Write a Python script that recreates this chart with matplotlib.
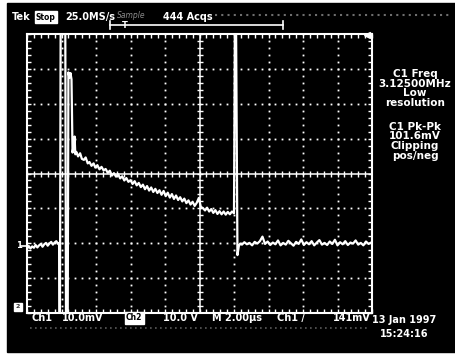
import numpy as np
import matplotlib
matplotlib.use("Agg")
import matplotlib.pyplot as plt
from matplotlib.patches import Rectangle
from matplotlib.lines import Line2D

# ---- trace data (time in us, volts in mV) ----
t_pre = [0.00, 0.10, 0.20, 0.30, 0.40, 0.50, 0.60, 0.70, 0.80, 0.90,
         1.00, 1.10, 1.20, 1.30, 1.40, 1.50, 1.60, 1.70, 1.80, 1.86]
v_pre = [-21.6, -20.8, -21.5, -20.9, -21.3, -20.5, -21.2, -20.6, -20.2, -21.0,
         -20.3, -19.9, -20.7, -20.1, -19.6, -20.4, -19.8, -19.4, -20.2, -19.9]

# the burst: clipped both ways, then the spike
t_pulse = [1.88, 1.91, 1.95, 2.22, 2.26, 2.36, 2.40, 2.46, 2.52, 2.58, 2.64, 2.70, 2.76, 2.80, 2.86]
v_pulse = [-42, -42, 42, 42, -42, -42, 29.0, 27.5, 28.8, 27.0, 6.0, 8.0, 10.6, 5.5, 6.2]

t_decay = [2.96, 3.08, 3.18, 3.30, 3.40, 3.52, 3.62, 3.74, 3.86, 3.96,
           4.08, 4.20, 4.32, 4.44, 4.56, 4.68, 4.80, 4.92, 5.04, 5.16,
           5.28, 5.40, 5.52, 5.64, 5.76, 5.88, 6.00, 6.12, 6.24, 6.36,
           6.48, 6.60, 6.72, 6.84, 6.96, 7.08, 7.20, 7.32, 7.44, 7.56,
           7.68, 7.80, 7.92, 8.04, 8.16, 8.28, 8.40, 8.52, 8.64, 8.76,
           8.88, 9.00, 9.12, 9.24, 9.36, 9.48, 9.60, 9.72, 9.84, 9.96,
           10.08, 10.20, 10.32, 10.44, 10.56, 10.68, 10.80, 10.92, 11.04, 11.16,
           11.28, 11.40, 11.52, 11.64, 11.76, 11.88, 12.00]
v_decay = [4.9, 5.8, 4.2, 3.9, 4.6, 2.9, 3.3, 2.2, 2.9, 1.7,
           2.4, 1.2, 1.9, 0.9, 1.3, 0.2, 0.8, -0.6, 0.1, -0.9,
           -0.2, -1.4, -0.8, -2.0, -1.3, -2.4, -1.9, -3.0, -2.2, -3.4,
           -2.7, -3.9, -3.2, -4.5, -3.6, -4.9, -4.0, -5.3, -4.4, -5.6,
           -4.8, -6.1, -5.0, -6.5, -5.5, -6.9, -5.9, -7.3, -6.3, -7.6,
           -6.8, -8.0, -7.2, -8.5, -7.7, -8.9, -8.1, -9.3, -8.4, -7.0,
           -9.6, -9.9, -10.6, -9.8, -10.9, -10.2, -11.3, -10.5, -11.6, -10.8,
           -11.7, -10.9, -11.8, -11.0, -11.7, -10.9, -11.4]

# end of burst: clipped high, then back to baseline
t_end = [12.05, 12.12, 12.20, 12.28, 12.36]
v_end = [42, 42, -23.4, -20.8, -20.1]

t_post = [12.46, 12.60, 12.75, 12.90, 13.05, 13.20, 13.35, 13.50, 13.65, 13.80,
          13.95, 14.10, 14.25, 14.40, 14.55, 14.70, 14.85, 15.00, 15.15, 15.30,
          15.45, 15.60, 15.75, 15.90, 16.05, 16.20, 16.35, 16.50, 16.65, 16.80,
          16.95, 17.10, 17.25, 17.40, 17.55, 17.70, 17.85, 18.00, 18.15, 18.30,
          18.45, 18.60, 18.75, 18.90, 19.05, 19.20, 19.35, 19.50, 19.65, 19.80,
          19.95]
v_post = [-20.4, -19.7, -20.3, -19.9, -20.6, -19.6, -20.1, -19.4, -18.1, -20.2,
          -19.5, -20.5, -19.8, -20.3, -19.2, -20.6, -19.9, -20.4, -19.3, -20.0,
          -20.7, -19.6, -20.2, -18.9, -20.5, -19.7, -20.3, -19.4, -20.6, -19.8,
          -19.1, -20.4, -19.9, -20.5, -19.5, -20.2, -19.0, -20.6, -19.7, -20.3,
          -19.4, -20.5, -19.8, -20.1, -19.2, -20.4, -19.9, -20.6, -19.5, -20.2,
          -19.8]

header = ["Tek", "Stop", "25.0MS/s", "Sample", "444 Acqs"]
meas1 = ["C1 Freq", "3.12500MHz", "Low", "resolution"]
meas2 = ["C1 Pk-Pk", "101.6mV", "Clipping", "pos/neg"]
bottom = ["Ch1", "10.0mV", "Ch2", "10.0 V", "M 2.00\u00b5s", "Ch1 /", "141mV"]
date_str = "13 Jan 1997"
time_str = "15:24:16"

W, H = 455, 355
fig = plt.figure(figsize=(W / 100, H / 100), dpi=100, facecolor="white")

def fx(px):
  return px / W

def fy(py):
  return 1 - py / H

# black scope screen (drawn under the axes)
fig.patches.append(Rectangle((fx(7), fy(352)), 1, (352 - 3) / H,
                             transform=fig.transFigure, color="black", zorder=-5))

ax = fig.add_axes([fx(27), fy(313), (372 - 27) / W, (313 - 34) / H])
ax.set_zorder(2)
ax.set_facecolor("black")
ax.set_xlim(0, 20)
ax.set_ylim(-40, 40)

# graticule: dotted division lines
for xv in range(2, 20, 2):
  if xv == 10:
    continue
  yy = np.arange(-40, 40.1, 2)
  ax.plot(np.full_like(yy, xv), yy, ls="none", marker="s", ms=1.3, color="white", mew=0)
for yv in (-30, -20, -10, 10, 20, 30):
  xx = np.arange(0, 20.01, 0.4)
  ax.plot(xx, np.full_like(xx, yv), ls="none", marker="s", ms=1.3, color="white", mew=0)

# centre cross with ticks
ax.axhline(0, color="white", lw=1.1)
ax.axvline(10, color="white", lw=1.1)
xx = np.arange(0, 20.01, 0.4)
ax.plot(xx, np.zeros_like(xx), ls="none", marker="|", ms=4, color="white", mew=1)
yy = np.arange(-40, 40.1, 2)
ax.plot(np.full_like(yy, 10), yy, ls="none", marker="_", ms=4, color="white", mew=1)

for s in ax.spines.values():
  s.set_color("white")
  s.set_linewidth(1.5)
ax.set_xticks(np.arange(0, 20.01, 2))
ax.set_xticks(np.arange(0, 20.01, 0.4), minor=True)
ax.set_yticks(np.arange(-40, 40.1, 10))
ax.set_yticks(np.arange(-40, 40.1, 2), minor=True)
ax.tick_params(which="both", direction="in", length=3, width=1, color="white",
               top=True, right=True, labelbottom=False, labelleft=False)

# waveform
t = np.concatenate([t_pre, t_pulse, t_decay, t_end, t_post])
v = np.concatenate([v_pre, v_pulse, v_decay, v_end, v_post])
ax.plot(t, v, color="white", lw=1.6, solid_joinstyle="round")

font = dict(color="white", fontweight="bold", family="DejaVu Sans")

# header line
fig.text(fx(12), fy(17), header[0], size=7, va="center", **font)
fig.text(fx(36), fy(17), header[1], size=5.5, va="center", color="black", fontweight="bold",
         bbox=dict(boxstyle="square,pad=0.15", fc="white", ec="white"))
fig.text(fx(65), fy(17), header[2], size=7, va="center", **font)
fig.text(fx(117), fy(15), header[3], size=5.5, va="center", color="#8a8a8a", style="italic")
fig.text(fx(163), fy(17), header[4], size=7, va="center", **font)
fig.add_artist(Line2D([fx(215), fx(450)], [fy(15), fy(15)], color="#6e6e6e", lw=1.5, ls=(0, (1, 2))))

# record bracket with trigger T
fig.add_artist(Line2D([fx(110), fx(283)], [fy(25), fy(25)], color="white", lw=1.2))
fig.add_artist(Line2D([fx(110), fx(110)], [fy(21), fy(29)], color="white", lw=1.2))
fig.add_artist(Line2D([fx(283), fx(283)], [fy(21), fy(29)], color="white", lw=1.2))
fig.text(fx(125), fy(25), "T", size=6, ha="center", va="center", **font)
fig.add_artist(Line2D([fx(367)], [fy(35)], marker="<", ms=5, color="white", zorder=5))

# measurement readouts on the right
for i, s in enumerate(meas1):
  fig.text(fx(415), fy(74 + 9.7 * i), s, size=7.5, ha="center", va="center", **font)
for i, s in enumerate(meas2):
  fig.text(fx(415), fy(127 + 9.5 * i), s, size=7.5, ha="center", va="center", **font)

# channel ground markers
fig.text(fx(16), fy(246), "1", size=6, va="center", **font)
fig.add_artist(Line2D([fx(21), fx(27)], [fy(246), fy(246)], color="white", lw=1.2))
fig.text(fx(16), fy(307), "2", size=4.5, va="center", color="#333333", fontweight="bold",
         bbox=dict(boxstyle="square,pad=0.25", fc="white", ec="white"))

# bottom status line
xs = [32, 62, 126, 163, 212, 277, 333]
for x, s in zip(xs, bottom):
  if s == "Ch2":
    fig.text(fx(x), fy(318), s, size=5.5, va="center", color="black", fontweight="bold",
             bbox=dict(boxstyle="square,pad=0.15", fc="white", ec="white"))
  else:
    fig.text(fx(x), fy(318), s, size=7, va="center", **font)
fig.add_artist(Line2D([fx(30), fx(368)], [fy(328), fy(328)], color="#5a5a5a", lw=1.2, ls=(0, (1, 2))))
fig.text(fx(372), fy(320), date_str, size=7, va="center", **font)
fig.text(fx(380), fy(334), time_str, size=7, va="center", **font)

fig.savefig("out.png", dpi=100, facecolor="white")
